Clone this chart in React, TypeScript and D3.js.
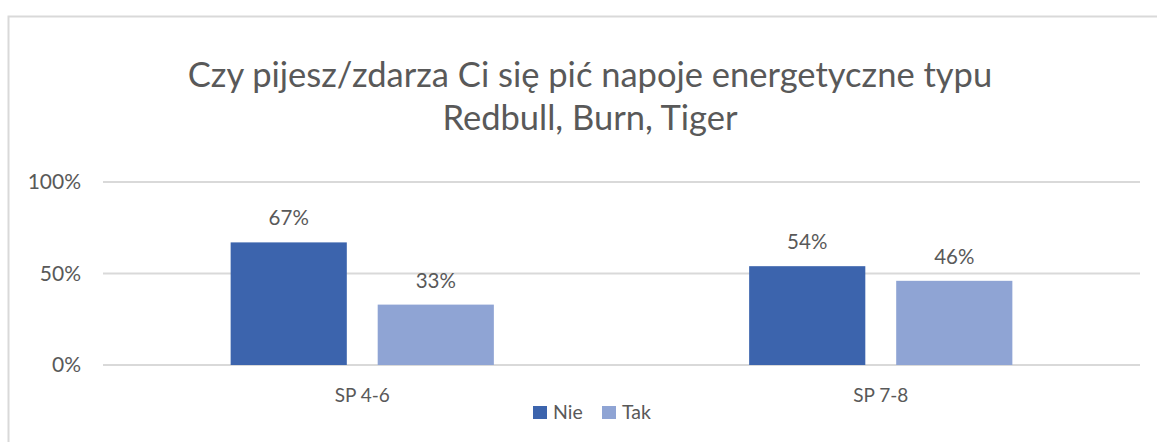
import React from 'react';
import * as d3 from 'd3';

const categories = ['SP 4-6', 'SP 7-8'];
const seriesNames = ['Nie', 'Tak'];
const nieValues = [0.67, 0.54];
const takValues = [0.33, 0.46];
const yTicks = [0, 0.5, 1];
const titleLines = ['Czy pijesz/zdarza Ci się pić napoje energetyczne typu', 'Redbull, Burn, Tiger'];

const colors = ['#3C64AD', '#8FA4D4'];
const textColor = '#595959';
const gridColor = '#D9D9D9';
const font = 'Lato, "Open Sans", sans-serif';

const W = 1157;
const H = 442;

export default function App() {
  const x = d3.scaleBand<string>().domain(categories).range([103, 1140]).paddingInner(0).paddingOuter(0);
  const xInner = d3.scaleBand<string>().domain(seriesNames).range([0, x.bandwidth()]).paddingInner(0.21).paddingOuter(0.868);
  const y = d3.scaleLinear().domain([0, 1]).range([365, 182]);
  const fmt = d3.format('.0%');

  const series = [nieValues, takValues];

  return (
    <svg width={W} height={H} style={{ position: 'absolute', left: 0, top: 0, background: '#fff' }} fontFamily={font}>
      <rect x={8.5} y={16.5} width={W + 10} height={H + 10} fill="#fff" stroke={gridColor} strokeWidth={2} />

      {titleLines.map((t, i) => (
        <text key={t} x={590} y={87 + i * 43} textAnchor="middle" fontSize={34.5} fill={textColor}>{t}</text>
      ))}

      {yTicks.map(t => (
        <g key={t}>
          <line x1={103} x2={1140} y1={y(t)} y2={y(t)} stroke={gridColor} strokeWidth={2} />
          <text x={81} y={y(t) + 7} textAnchor="end" fontSize={21} fill={textColor}>{fmt(t)}</text>
        </g>
      ))}

      {categories.map((c, ci) => (
        <g key={c}>
          {series.map((vals, si) => {
            const bx = (x(c) ?? 0) + (xInner(seriesNames[si]) ?? 0);
            const v = vals[ci];
            return (
              <g key={si}>
                <rect x={bx} y={y(v)} width={xInner.bandwidth()} height={y(0) - y(v)} fill={colors[si]} />
                <text x={bx + xInner.bandwidth() / 2} y={y(v) - 17} textAnchor="middle" fontSize={20.5} fill={textColor}>{fmt(v)}</text>
              </g>
            );
          })}
          <text x={(x(c) ?? 0) + x.bandwidth() / 2} y={402} textAnchor="middle" fontSize={19} fill={textColor}>{c}</text>
        </g>
      ))}

      {seriesNames.map((s, i) => {
        const lx = [533, 602][i];
        return (
          <g key={s}>
            <rect x={lx} y={406} width={14} height={13} fill={colors[i]} />
            <text x={lx + 20} y={419} fontSize={19.5} fill={textColor}>{s}</text>
          </g>
        );
      })}
    </svg>
  );
}
